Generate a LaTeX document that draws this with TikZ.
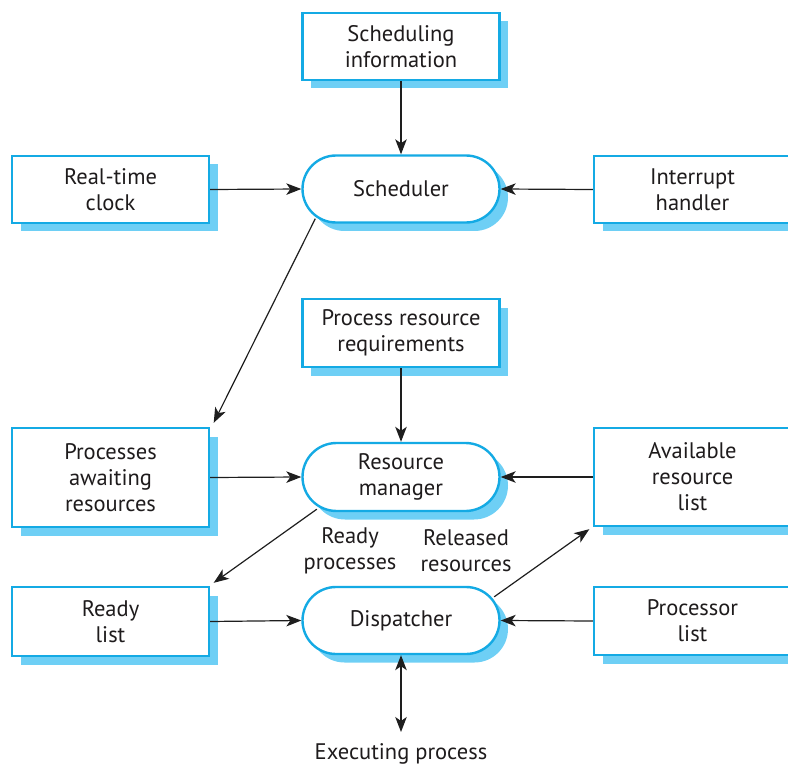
\documentclass[tikz,border=0pt]{standalone}
\usepackage{fontspec}
\setmainfont{PT Sans}
\usetikzlibrary{arrows.meta,calc,shadows}
\definecolor{boxblue}{RGB}{20,170,228}
\definecolor{shadblue}{RGB}{110,207,245}
\definecolor{linegrey}{RGB}{30,30,30}
\definecolor{textgrey}{RGB}{30,27,28}
\begin{document}
\begin{tikzpicture}[x=1pt,y=-1pt,
  base/.style={draw=boxblue,line width=2.4pt,fill=white,inner sep=0pt,
    minimum width=197pt,align=center,text=textgrey,
    font=\fontsize{22.5}{26}\selectfont,
    general shadow={fill=shadblue,shadow xshift=8.5pt,shadow yshift=-8.5pt}},
  sbox/.style={base,rectangle},
  pill/.style={base,rectangle,rounded corners=33.5pt,minimum height=67pt},
  conn/.style={draw=linegrey,line width=1.2pt,-{Stealth[length=15pt,width=11.5pt,inset=4pt]}},
  lbl/.style={text=textgrey,font=\fontsize{22.5}{26}\selectfont,align=center,inner sep=0pt}
]
\useasboundingbox (0,0) rectangle (788,765);
\clip (0,0) rectangle (788,765);
% boxes
\node[sbox,minimum height=67pt] (info) at (401,46.5) {Scheduling\\information};
\node[pill] (sched) at (401,189) {Scheduler};
\node[sbox,minimum height=67pt] (rtc) at (110.5,189.5) {Real-time\\clock};
\node[sbox,minimum height=67pt] (intr) at (692.5,189.5) {Interrupt\\handler};
\node[sbox,minimum height=68pt] (prr) at (401,333) {Process resource\\requirements};
\node[pill,minimum height=68pt,rounded corners=34pt] (rm) at (401,477) {Resource\\manager};
\node[sbox,minimum height=99pt] (paw) at (110.5,477.5) {Processes\\awaiting\\resources};
\node[sbox,minimum height=98pt] (arl) at (692.5,477) {Available\\resource\\list};
\node[sbox,minimum height=69pt] (ready) at (110.5,621.5) {Ready\\list};
\node[pill] (disp) at (401,620.5) {Dispatcher};
\node[sbox,minimum height=68pt] (plist) at (692.5,621) {Processor\\list};
% labels
\node[lbl] (readyp) at (350,551) {Ready\\processes};
\node[lbl] (relres) at (466,551) {Released\\resources};
\node[lbl,anchor=base] (exec) at (401,759) {Executing process};
\coordinate (execTop) at (401,732);
% connectors
\draw[conn] (info.south) -- (sched.north);
\draw[conn] (rtc.east) -- (sched.west);
\draw[conn] (intr.west) -- (sched.east);
\draw[conn] ($(sched.south west)+(14,-5)$) -- ($(paw.north east)+(3.5,-4)$);
\draw[conn] (prr.south) -- (rm.north);
\draw[conn] (paw.east) -- (rm.west);
\draw[conn] (arl.west) -- (rm.east);
\draw[conn] ($(rm.south west)+(15.5,-3)$) -- ($(ready.north east)+(3.5,-3)$);
\draw[conn] ($(disp.north east)+(-6.5,11)$) -- ($(arl.south west)+(-3.5,2)$);
\draw[conn] (ready.east) -- (disp.west);
\draw[conn] (plist.west) -- (disp.east);
\draw[conn,{Stealth[length=15pt,width=11.5pt,inset=4pt]}-{Stealth[length=15pt,width=11.5pt,inset=4pt]}] (disp.south) -- (execTop);
\end{tikzpicture}
\end{document}
